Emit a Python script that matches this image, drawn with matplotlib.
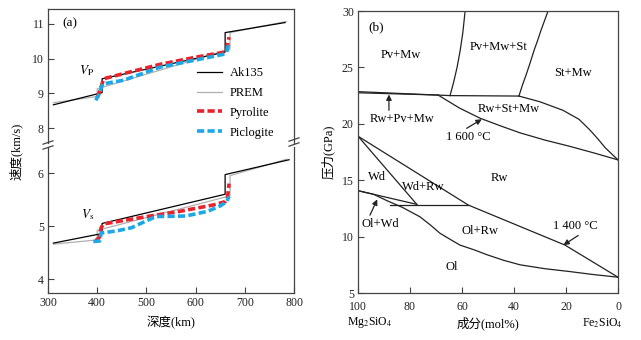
import matplotlib
matplotlib.use('Agg')
import matplotlib.pyplot as plt
from matplotlib.lines import Line2D

plt.rcParams['font.family'] = ['Liberation Serif', 'Noto Sans CJK SC', 'DejaVu Serif']
plt.rcParams['mathtext.fontset'] = 'stix'

# (a) 速度剖面: Vp
ak135_vp_depth = [311, 410, 410, 660, 660, 782]
ak135_vp = [8.67, 9.02, 9.42, 10.19, 10.75, 11.04]
prem_vp_depth = [311, 400, 400, 670, 670, 784]
prem_vp = [8.73, 8.91, 9.13, 10.27, 10.75, 11.07]
pyrolite_vp_depth = [400, 406, 413, 454, 529, 600, 655, 662, 665, 668]
pyrolite_vp = [8.88, 9.10, 9.42, 9.57, 9.84, 10.04, 10.18, 10.22, 10.40, 10.62]
piclogite_vp_depth = [397, 403, 411, 454, 529, 600, 655, 663, 667]
piclogite_vp = [8.80, 8.95, 9.27, 9.38, 9.76, 9.96, 10.12, 10.18, 10.40]

# (a) 速度剖面: Vs
ak135_vs_depth = [311, 410, 410, 660, 660, 790]
ak135_vs = [4.68, 4.86, 5.05, 5.60, 5.97, 6.25]
prem_vs_depth = [311, 400, 400, 670, 670, 785]
prem_vs = [4.66, 4.74, 4.92, 5.57, 5.95, 6.26]
pyrolite_vs_depth = [397, 404, 408, 413, 450, 501, 569, 637, 660, 665, 668]
pyrolite_vs = [4.73, 4.78, 4.97, 5.04, 5.10, 5.18, 5.28, 5.40, 5.46, 5.55, 5.80]
piclogite_vs_depth = [392, 405, 408, 440, 470, 500, 520, 580, 625, 650, 663, 668]
piclogite_vs = [4.71, 4.72, 4.87, 4.91, 4.97, 5.10, 5.18, 5.19, 5.28, 5.38, 5.46, 5.56]

# (b) 相图边界 (成分 mol%, 压力 GPa)
pv_top_comp = [100, 64.6, 38.1]
pv_top_p = [22.85, 22.5, 22.46]
rw_pv_comp = [100, 69.2]
rw_pv_p = [22.75, 22.55]
pv_st_comp = [64.6, 63.2, 61.9, 60.7, 59.7, 58.8]
pv_st_p = [22.5, 23.7, 25.0, 26.5, 28.05, 30.0]
st_mw_comp = [38.1, 36.8, 35.4, 33.8, 32.3, 30.9, 29.6, 26.9]
st_mw_p = [22.46, 23.4, 24.3, 25.4, 26.5, 27.4, 28.3, 30.0]
t1600_comp = [69.2, 61, 53.1, 45, 37.7, 28, 18.5, 9, 0]
t1600_p = [22.55, 21.4, 20.5, 19.8, 19.2, 18.55, 18.0, 17.4, 16.8]
rsm_comp = [38.1, 30, 21.2, 15, 10.8, 7.5, 5.0, 2.3, 0]
rsm_p = [22.46, 21.95, 21.2, 20.4, 19.45, 18.6, 17.9, 17.3, 16.8]
wd_rw_comp = [100, 77.4]
wd_rw_p = [18.9, 12.86]
rw_top_comp = [100, 57.6, 37.7, 20.4, 0]
rw_top_p = [18.9, 12.8, 10.9, 9.25, 6.4]
horiz_comp = [87.7, 57.6]
horiz_p = [12.8, 12.8]
olwd_top_comp = [100, 77.4]
olwd_top_p = [14.07, 12.86]
ol_comp = [100, 94, 89, 83, 76.2, 72, 68.5, 64.5, 60.8, 55, 50.5, 44, 37.7, 28, 18.5, 10, 0]
ol_p = [14.07, 13.75, 13.2, 12.6, 11.76, 11.0, 10.3, 9.75, 9.25, 8.8, 8.4, 7.9, 7.5, 7.15, 6.9, 6.65, 6.4]

phase_labels = ['Pv+Mw', 'Pv+Mw+St', 'St+Mw', 'Rw+St+Mw', 'Wd', 'Wd+Rw', 'Rw', 'Ol+Rw', 'Ol']
phase_label_comp = [83.5, 46.0, 17.2, 42.2, 92.6, 74.9, 45.8, 53.1, 64.0]
phase_label_p = [26.1, 26.8, 24.5, 21.3, 15.3, 14.4, 15.2, 10.5, 7.3]

W, H = 641, 340
fig = plt.figure(figsize=(6.41, 3.40), dpi=100)

ax_vp = fig.add_axes([48 / W, 1 - 143 / H, 246 / W, 134 / H])
ax_vs = fig.add_axes([48 / W, 1 - 293 / H, 246 / W, 146 / H])
ax_b = fig.add_axes([358 / W, 1 - 293 / H, 260 / W, 282 / H])

frame_col = '#444444'
red = '#e8232b'
blue = '#1ca8e6'

for ax in (ax_vp, ax_vs, ax_b):
    for s in ax.spines.values():
        s.set_color(frame_col)
        s.set_linewidth(0.9)
    ax.tick_params(direction='in', length=4, width=0.8, color=frame_col,
                   labelsize=8.5, labelcolor='#222222', pad=3)
ax_b.tick_params(axis='x', pad=5.5)

# Vp
ax_vp.plot(prem_vp_depth, prem_vp, color='#b0b0b0', lw=0.9, label='PREM')
ax_vp.plot(ak135_vp_depth, ak135_vp, color='black', lw=0.9, label='Ak135')
ax_vp.plot(pyrolite_vp_depth, pyrolite_vp, color=red, lw=2.6, dashes=(2.0, 0.9), label='Pyrolite')
ax_vp.plot(piclogite_vp_depth, piclogite_vp, color=blue, lw=2.6, dashes=(2.0, 0.9), label='Piclogite')
ax_vp.set_xlim(300, 800)
ax_vp.set_ylim(7.57, 11.43)
ax_vp.set_yticks([8, 9, 10, 11])
ax_vp.set_xticks([])
ax_vp.spines['bottom'].set_visible(False)
ax_vp.text(0.06, 0.94, '(a)', transform=ax_vp.transAxes, fontsize=9.5, va='top')
ax_vp.text(379, 9.66, r'$V_\mathrm{P}$', fontsize=9.5, ha='center', va='center')

handles, labels = ax_vp.get_legend_handles_labels()
order = [1, 0, 2, 3]
ax_vp.legend([handles[i] for i in order], [labels[i] for i in order],
             loc='upper left', bbox_to_anchor=(0.606, 0.565), frameon=False,
             fontsize=9, handlelength=2.0, handletextpad=0.6, labelspacing=0.62,
             borderpad=0, borderaxespad=0)

# Vs
ax_vs.plot(prem_vs_depth, prem_vs, color='#b0b0b0', lw=0.9)
ax_vs.plot(ak135_vs_depth, ak135_vs, color='black', lw=0.9)
ax_vs.plot(pyrolite_vs_depth, pyrolite_vs, color=red, lw=2.6, dashes=(2.0, 0.9))
ax_vs.plot(piclogite_vs_depth, piclogite_vs, color=blue, lw=2.6, dashes=(2.0, 0.9))
ax_vs.set_xlim(300, 800)
ax_vs.set_ylim(3.74, 6.49)
ax_vs.set_yticks([4, 5, 6])
ax_vs.set_xticks([300, 400, 500, 600, 700, 800])
ax_vs.spines['top'].set_visible(False)
ax_vs.text(380, 5.21, r'$V_\mathrm{s}$', fontsize=9.5, ha='center', va='center')

# 断轴标记
for px, py in [(48, 142.5), (48, 147.5), (294, 139.5), (294, 144.5)]:
    fig.add_artist(Line2D([(px - 5) / W, (px + 5) / W],
                          [1 - (py + 1.7) / H, 1 - (py - 1.7) / H],
                          color=frame_col, lw=0.9))

fig.text(16 / W, 1 - 151 / H, '速度(km/s)', rotation=90, ha='center', va='center', fontsize=9)
fig.text(171 / W, 1 - 323 / H, '深度(km)', ha='center', va='center', fontsize=9)

# (b)
lc = '#222222'
for c, p in [(pv_top_comp, pv_top_p), (rw_pv_comp, rw_pv_p), (pv_st_comp, pv_st_p),
             (st_mw_comp, st_mw_p), (t1600_comp, t1600_p), (rsm_comp, rsm_p),
             (wd_rw_comp, wd_rw_p), (rw_top_comp, rw_top_p), (horiz_comp, horiz_p),
             (olwd_top_comp, olwd_top_p), (ol_comp, ol_p)]:
    ax_b.plot(c, p, color=lc, lw=0.9)

ax_b.set_xlim(100, 0)
ax_b.set_ylim(5, 30)
ax_b.set_xticks([100, 80, 60, 40, 20, 0])
ax_b.set_yticks([5, 10, 15, 20, 25, 30])
ax_b.text(0.04, 0.965, '(b)', transform=ax_b.transAxes, fontsize=9.5, va='top')

for lab, c, p in zip(phase_labels, phase_label_comp, phase_label_p):
    ax_b.text(c, p, lab, fontsize=9, ha='center', va='center')

arrow = dict(arrowstyle='-|>', color=lc, lw=0.9, mutation_scale=8, shrinkA=0, shrinkB=0)
ax_b.annotate('', xy=(88.1, 22.6), xytext=(88.1, 21.2), arrowprops=arrow)
ax_b.text(83, 20.4, 'Rw+Pv+Mw', fontsize=9, ha='center', va='center')
ax_b.annotate('', xy=(52.4, 20.4), xytext=(58.2, 19.6), arrowprops=arrow)
ax_b.text(57.5, 18.8, '1 600 °C', fontsize=9, ha='center', va='center')
ax_b.annotate('', xy=(21.0, 9.25), xytext=(15.3, 10.1), arrowprops=arrow)
ax_b.text(16.5, 10.9, '1 400 °C', fontsize=9, ha='center', va='center')
ax_b.annotate('', xy=(92.6, 13.3), xytext=(95.4, 11.9), arrowprops=arrow)
ax_b.text(91.5, 11.1, 'Ol+Wd', fontsize=9, ha='center', va='center')

ax_b.set_ylabel('压力(GPa)', fontsize=9)
ax_b.yaxis.set_label_coords(-0.09, 0.5)

fig.text(488 / W, 1 - 323 / H, '成分(mol%)', ha='center', va='center', fontsize=9)
fig.text(370 / W, 1 - 323 / H, r'Mg$_2$SiO$_4$', ha='center', va='center', fontsize=8.5)
fig.text(602 / W, 1 - 323 / H, r'Fe$_2$SiO$_4$', ha='center', va='center', fontsize=8.5)

fig.savefig('out.png', dpi=100)
